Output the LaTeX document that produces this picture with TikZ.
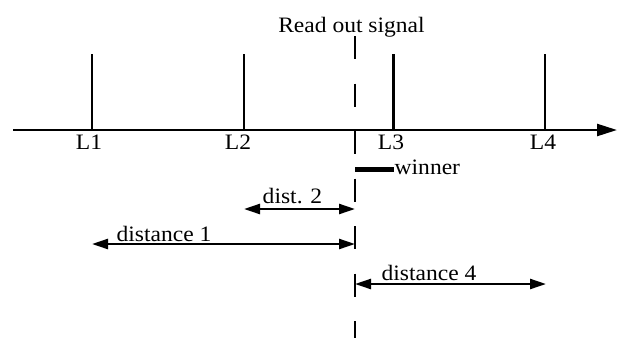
\documentclass[tikz,border=0pt]{standalone}
\usepackage{fontspec}
\setmainfont{Liberation Serif}[FakeStretch=1.07]
\usetikzlibrary{arrows.meta}
\begin{document}
\begin{tikzpicture}[x=1pt,y=-1pt,
  lbl/.style={anchor=base,inner sep=0pt,font=\fontsize{22}{24}\selectfont},
  axisline/.style={line width=2.4pt},
  tickline/.style={line width=2.4pt},
  readout/.style={line width=2.2pt,dash pattern=on 23pt off 24.5pt},
  dim/.style={line width=2.4pt,{Triangle[length=16pt,width=10pt]}-{Triangle[length=16pt,width=10pt]}},
  winbar/.style={line width=5pt}]
\useasboundingbox (0,0) rectangle (618,338);
% axis
\coordinate (a0) at (13,130);
\coordinate (a1) at (617,130);
\draw[axisline,-{Triangle[length=20pt,width=12pt]}] (a0) -- (a1);
% ticks
\coordinate (t1b) at (92,130);  \coordinate (t1t) at (92,54);
\coordinate (t2b) at (244,130); \coordinate (t2t) at (244,54);
\coordinate (t3b) at (393.5,130); \coordinate (t3t) at (393.5,54);
\coordinate (t4b) at (545,130); \coordinate (t4t) at (545,54);
\draw[tickline] (t1b) -- (t1t);
\draw[tickline] (t2b) -- (t2t);
\draw[tickline] (t3b) -- (t3t);
\draw[tickline] (t4b) -- (t4t);
\node[lbl] (L1) at (89,149) {L1};
\node[lbl] (L2) at (238,149) {L2};
\node[lbl] (L3) at (391,149) {L3};
\node[lbl] (L4) at (543,149) {L4};
% read out signal
\node[lbl] (ros) at (351.5,32.5) {Read out signal};
\coordinate (r0) at (355,36);
\coordinate (r1) at (355,338);
\draw[readout] (r0) -- (r1);
% winner
\coordinate (w0) at (355,169);
\coordinate (w1) at (394,169);
\draw[winbar] (w0) -- (w1);
\node[lbl,anchor=base west] (win) at (394.5,174) {winner};
% distances
\coordinate (d2a) at (244,209); \coordinate (d2b) at (355,209);
\draw[dim] (d2a) -- (d2b);
\node[lbl] (d2l) at (292.5,203) {dist. 2};
\coordinate (d1a) at (92,244); \coordinate (d1b) at (355,244);
\draw[dim] (d1a) -- (d1b);
\node[lbl] (d1l) at (164,241) {distance 1};
\coordinate (d4a) at (355,284); \coordinate (d4b) at (546,284);
\draw[dim] (d4a) -- (d4b);
\node[lbl] (d4l) at (429,280) {distance 4};
\end{tikzpicture}
\end{document}
